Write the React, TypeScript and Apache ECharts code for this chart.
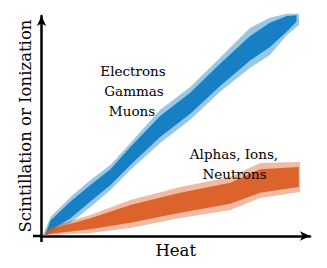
import React, { useEffect, useRef } from "react";
import * as echarts from "echarts";

// Band boundaries (Heat on x, Scintillation/Ionization on y)
const blueOuterX = [0.4, 3.35, 10.8, 18.2, 25.7, 33.1, 44.2, 55.4, 66.5, 77.7, 85.1, 91.4, 95.9];
const blueOuterLo = [0, 1.35, 5.9, 13.1, 20.7, 29.7, 41.9, 52.3, 64.9, 75.7, 81.5, 90.5, 95.0];
const blueOuterHi = [0, 8.6, 17.6, 25.2, 32.0, 41.9, 56.8, 67.1, 80.2, 93.7, 98.2, 100, 100];

const blueCoreX = [1.5, 3.35, 10.8, 18.2, 25.7, 33.1, 44.2, 55.4, 66.5, 77.7, 85.1, 91.4, 95.0];
const blueCoreLo = [0.5, 2.5, 8, 15.5, 23, 32, 44.5, 55, 67.5, 79, 85, 92, 96.5];
const blueCoreHi = [1.0, 7, 15.5, 23, 30, 40, 54, 64.5, 77.5, 90, 96, 99, 99.3];

const orangeOuterX = [0.4, 3.35, 18.2, 33.1, 51.7, 70.3, 81.4, 96.3];
const orangeOuterLo = [0, 0.45, 1.35, 3.6, 8.1, 11.7, 17.1, 19.8];
const orangeOuterHi = [0, 4.05, 9.46, 16.2, 22.1, 26.6, 32.9, 33.3];

const orangeCoreX = [1.5, 3.35, 18.2, 33.1, 51.7, 70.3, 81.4, 95.8];
const orangeCoreLo = [0.3, 1, 3, 6, 10.5, 14.5, 19.5, 22];
const orangeCoreHi = [0.8, 3, 8, 14, 19.5, 24, 30, 31];

const xTitle = "Heat";
const yTitle = "Scintillation or Ionization";
const upperLabel = ["Electrons", "Gammas", "Muons"];
const lowerLabel = ["Alphas, Ions,", "Neutrons"];

const BLUE = "#0072BD";
const ORANGE = "#D95319";
const FONT = "DejaVu Serif";

function band(name: string, xs: number[], lo: number[], hi: number[], color: string, opacity: number) {
  return {
    name,
    type: "custom",
    silent: true,
    clip: false,
    data: xs.map((x, i) => [x, lo[i], hi[i]]),
    encode: { x: 0, y: [1, 2] },
    renderItem: (params: any, api: any) => {
      if (params.dataIndex !== 0) return null;
      const top = xs.map((x, i) => api.coord([x, hi[i]]));
      const bot = xs.map((x, i) => api.coord([x, lo[i]])).reverse();
      return {
        type: "polygon",
        shape: { points: [...top, ...bot] },
        style: { fill: color, opacity },
      };
    },
  };
}

export default function App() {
  const ref = useRef<HTMLDivElement>(null);
  useEffect(() => {
    document.body.style.margin = "0";
    if (!ref.current) return;
    const chart = echarts.init(ref.current, null, { renderer: "svg" });
    const axisLine = {
      show: true,
      symbol: ["none", "arrow"],
      symbolSize: [7, 10],
      lineStyle: { color: "#000", width: 2.5 },
    };
    const textEl = (text: string, x: number, y: number) => ({
      type: "text",
      x,
      y,
      style: {
        text,
        fontFamily: FONT,
        fontSize: 13.5,
        fill: "#000",
        align: "center",
        verticalAlign: "middle",
      },
      z: 10,
    });
    chart.setOption({
      animation: false,
      backgroundColor: "#fff",
      grid: { left: 41.5, right: 17, top: 16, bottom: 32 },
      xAxis: {
        type: "value",
        min: 0,
        max: 100,
        name: xTitle,
        nameLocation: "middle",
        nameGap: 6,
        nameTextStyle: { fontFamily: FONT, fontSize: 16.5, color: "#000", verticalAlign: "top" },
        axisLine,
        axisTick: { show: false },
        axisLabel: { show: false },
        splitLine: { show: false },
      },
      yAxis: {
        type: "value",
        min: 0,
        max: 99,
        name: yTitle,
        nameLocation: "middle",
        nameGap: 8,
        nameTextStyle: { fontFamily: FONT, fontSize: 16.5, color: "#000" },
        axisLine,
        axisTick: { show: false },
        axisLabel: { show: false },
        splitLine: { show: false },
      },
      series: [
        band("blueOuter", blueOuterX, blueOuterLo, blueOuterHi, BLUE, 0.4),
        band("blueCore", blueCoreX, blueCoreLo, blueCoreHi, BLUE, 0.85),
        band("orangeOuter", orangeOuterX, orangeOuterLo, orangeOuterHi, ORANGE, 0.4),
        band("orangeCore", orangeCoreX, orangeCoreLo, orangeCoreHi, ORANGE, 0.85),
      ],
      graphic: [
        { type: "rect", shape: { x: 33, y: 234.75, width: 9, height: 2.5 }, style: { fill: "#000" } },
        { type: "rect", shape: { x: 40.25, y: 235, width: 2.5, height: 7 }, style: { fill: "#000" } },
        textEl(upperLabel[0], 133, 71),
        textEl(upperLabel[1], 134, 91),
        textEl(upperLabel[2], 132, 111),
        textEl(lowerLabel[0], 234, 154),
        textEl(lowerLabel[1], 234.5, 174),
      ],
    });
    return () => chart.dispose();
  }, []);
  return <div ref={ref} style={{ width: 327, height: 268 }} />;
}
